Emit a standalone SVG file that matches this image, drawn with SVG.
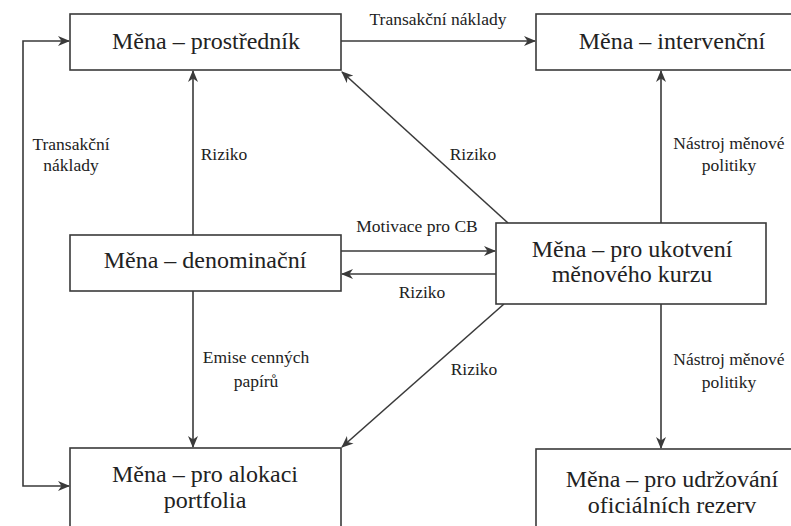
<svg xmlns="http://www.w3.org/2000/svg" width="791" height="526" viewBox="0 0 791 526">
<style>
.box{fill:#fff;stroke:#3a3a3a;stroke-width:1.6}
.bt{font-size:24px;fill:#222;text-anchor:middle}
.lb{font-size:17.5px;fill:#222;text-anchor:middle}
.c{fill:none;stroke:#3a3a3a;stroke-width:1.6}
.a{marker-end:url(#ah)}
</style>
<defs>
<marker id="ah" viewBox="0 0 12 10" refX="11" refY="5" markerWidth="12" markerHeight="10" markerUnits="userSpaceOnUse" orient="auto-start-reverse">
<path d="M0,0 L12,5 L0,10 L3.5,5 z" fill="#3a3a3a"/>
</marker>
</defs>
<rect width="791" height="526" fill="#fff"/>
<g font-family="Liberation Serif, Times New Roman, DejaVu Serif, serif">
<g id="connectors">
<path class="c a" d="M341,41 L535,41"/>
<path class="c" d="M69,41 L23,41 L23,486 L69,486" marker-start="url(#ah)" marker-end="url(#ah)"/>
<path class="c a" d="M193,235 L193,71"/>
<path class="c a" d="M193,291 L193,447"/>
<path class="c a" d="M508,223 L342,72"/>
<path class="c a" d="M341,251 L495,251"/>
<path class="c a" d="M496,274 L342,274"/>
<path class="c a" d="M504,304 L342,447"/>
<path class="c a" d="M661,223 L661,71"/>
<path class="c a" d="M661,304 L661,448"/>
<text class="lb" x="438" y="25">Transakční náklady</text>
<text class="lb" x="71" y="150">Transakční</text>
<text class="lb" x="71" y="171">náklady</text>
<text class="lb" x="224" y="160">Riziko</text>
<text class="lb" x="473" y="160">Riziko</text>
<text class="lb" x="729" y="149">Nástroj měnové</text>
<text class="lb" x="729" y="171">politiky</text>
<text class="lb" x="417" y="232">Motivace pro CB</text>
<text class="lb" x="422" y="298">Riziko</text>
<text class="lb" x="256" y="363">Emise cenných</text>
<text class="lb" x="256" y="387">papírů</text>
<text class="lb" x="474" y="375">Riziko</text>
<text class="lb" x="729" y="365">Nástroj měnové</text>
<text class="lb" x="729" y="388">politiky</text>
</g>
<g id="n1"><rect class="box" x="70" y="14" width="271" height="56"/><text class="bt" x="206" y="49">Měna – prostředník</text></g>
<g id="n2"><rect class="box" x="536" y="14" width="270" height="56"/><text class="bt" x="672" y="49">Měna – intervenční</text></g>
<g id="n3"><rect class="box" x="70" y="235" width="271" height="56"/><text class="bt" x="205" y="268">Měna – denominační</text></g>
<g id="n4"><rect class="box" x="496" y="223" width="270" height="81"/><text class="bt" x="632" y="257">Měna – pro ukotvení</text><text class="bt" x="632" y="282">měnového kurzu</text></g>
<g id="n5"><rect class="box" x="70" y="448" width="271" height="90"/><text class="bt" x="205" y="482">Měna – pro alokaci</text><text class="bt" x="205" y="508">portfolia</text></g>
<g id="n6"><rect class="box" x="536" y="449" width="270" height="90"/><text class="bt" x="672" y="487">Měna – pro udržování</text><text class="bt" x="672" y="513">oficiálních rezerv</text></g>
</g>
</svg>
